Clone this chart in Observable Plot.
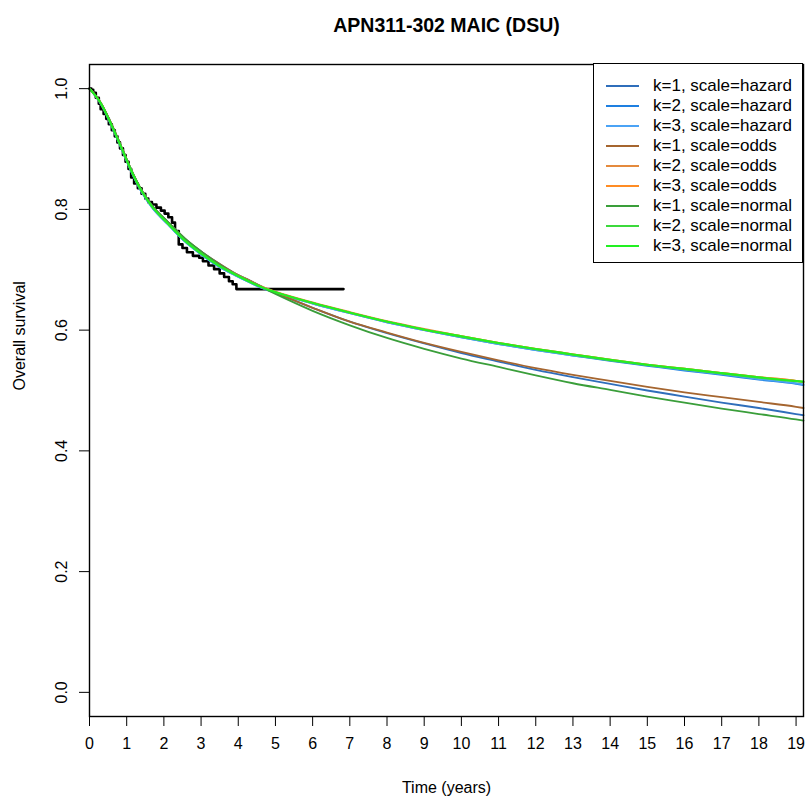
<!DOCTYPE html>
<html>
<head>
<meta charset="utf-8">
<script src="https://cdn.jsdelivr.net/npm/d3@7"></script>
<script src="https://cdn.jsdelivr.net/npm/@observablehq/plot@0.6"></script>
<style>
  body { margin: 0; background: #fff; font-family: "Liberation Sans", Arial, sans-serif; }
  #wrap { position: relative; width: 805px; height: 798px; }
  #legend { position: absolute; left: 593px; top: 63px; width: 208px; height: 198px;
            border: 1.5px solid #000; background: #fff; }
  .lrow { position: absolute; left: 0; height: 20px; width: 208px; }
  .lline { position: absolute; left: 12px; top: 9px; width: 33px; height: 2px; }
  .ltext { position: absolute; left: 59px; top: 0; line-height: 20px; font-size: 17px; color: #000; white-space: nowrap; }
</style>
</head>
<body>
<div id="wrap"></div>
<script>
// ---- text ----
const title = "APN311-302 MAIC (DSU)";
const xLabel = "Time (years)";
const yLabel = "Overall survival";
const xTicks = [0,1,2,3,4,5,6,7,8,9,10,11,12,13,14,15,16,17,18,19];
const yTicks = [0, 0.2, 0.4, 0.6, 0.8, 1.0];

// ---- Kaplan-Meier (observed) ----
const kmTime = [0,0.05,0.1,0.17,0.25,0.3,0.38,0.45,0.52,0.6,0.68,0.75,0.82,0.9,0.97,1.05,1.12,1.2,1.3,1.4,1.5,1.58,1.68,1.8,1.92,2.02,2.12,2.22,2.3,2.4,2.5,2.62,2.78,2.95,3.05,3.2,3.35,3.5,3.62,3.75,3.85,3.95,6.83];
const kmSurv = [1,0.998,0.993,0.985,0.975,0.966,0.958,0.95,0.941,0.931,0.921,0.911,0.901,0.89,0.879,0.867,0.853,0.843,0.835,0.826,0.818,0.812,0.808,0.803,0.798,0.793,0.787,0.778,0.764,0.742,0.736,0.729,0.723,0.72,0.714,0.707,0.701,0.694,0.688,0.681,0.676,0.668,0.668];

// ---- fitted models ----
const fitTime = [0,0.31,0.58,0.85,1.12,1.39,1.66,2.11,2.56,3.01,3.46,3.91,4.31,4.63,5,6,7,8,9,10,11,12,13,14,15,16,17,18,19,19.2];
const seriesNames = ["k=1, scale=hazard","k=2, scale=hazard","k=3, scale=hazard","k=1, scale=odds","k=2, scale=odds","k=3, scale=odds","k=1, scale=normal","k=2, scale=normal","k=3, scale=normal"];
const seriesColors = ["#2F6EBA","#1E7FE0","#4BA3F5","#A5652F","#E48A3D","#FF8C24","#3A9E3A","#3CD93C","#22F022"];

const hazardK1 = [1,0.975,0.942,0.904,0.866,0.833,0.808,0.779,0.752,0.730,0.711,0.694,0.682,0.672,0.662,0.637,0.614,0.595,0.578,0.562,0.548,0.534,0.522,0.511,0.500,0.490,0.480,0.471,0.461,0.459];
const hazardK2 = [1,0.974,0.940,0.902,0.863,0.830,0.805,0.775,0.747,0.725,0.706,0.691,0.679,0.670,0.662,0.644,0.628,0.613,0.600,0.588,0.577,0.567,0.558,0.549,0.541,0.533,0.526,0.518,0.511,0.509];
const hazardK3 = [1,0.974,0.940,0.902,0.863,0.830,0.805,0.775,0.747,0.725,0.706,0.691,0.679,0.670,0.662,0.644,0.628,0.613,0.600,0.588,0.577,0.567,0.558,0.550,0.542,0.534,0.527,0.519,0.512,0.510];
const oddsK1   = [1,0.976,0.943,0.905,0.866,0.833,0.808,0.779,0.752,0.730,0.711,0.694,0.682,0.672,0.662,0.637,0.614,0.596,0.579,0.564,0.550,0.537,0.526,0.516,0.506,0.497,0.489,0.481,0.473,0.471];
const oddsK2   = [1,0.976,0.942,0.904,0.865,0.832,0.807,0.777,0.749,0.727,0.708,0.693,0.681,0.672,0.664,0.646,0.630,0.615,0.602,0.590,0.579,0.569,0.560,0.551,0.543,0.536,0.529,0.522,0.516,0.514];
const oddsK3   = [1,0.975,0.942,0.904,0.865,0.832,0.807,0.777,0.749,0.727,0.708,0.693,0.681,0.671,0.663,0.645,0.629,0.614,0.601,0.590,0.579,0.569,0.560,0.551,0.543,0.536,0.529,0.522,0.516,0.514];
const normalK1 = [1,0.976,0.943,0.905,0.866,0.833,0.808,0.779,0.752,0.730,0.710,0.693,0.681,0.671,0.660,0.632,0.608,0.587,0.569,0.553,0.539,0.525,0.512,0.501,0.490,0.480,0.470,0.461,0.452,0.450];
const normalK2 = [1,0.975,0.941,0.903,0.865,0.832,0.807,0.777,0.749,0.727,0.708,0.693,0.680,0.671,0.663,0.645,0.629,0.614,0.601,0.589,0.578,0.568,0.559,0.550,0.542,0.535,0.528,0.521,0.515,0.514];
const normalK3 = [1,0.975,0.941,0.903,0.864,0.831,0.806,0.776,0.748,0.726,0.707,0.692,0.680,0.671,0.663,0.645,0.629,0.614,0.601,0.590,0.579,0.569,0.560,0.551,0.543,0.536,0.529,0.522,0.516,0.515];

const seriesValues = [hazardK1,hazardK2,hazardK3,oddsK1,oddsK2,oddsK3,normalK1,normalK2,normalK3];

// ---- tables built from arrays ----
const km = kmTime.map((t,i) => ({t, s: kmSurv[i]}));
const fits = [];
seriesNames.forEach((name, j) => {
  fitTime.forEach((t, i) => fits.push({series: name, t, s: seriesValues[j][i]}));
});

const font = "'Liberation Sans', Arial, sans-serif";

const chart = Plot.plot({
  width: 805,
  height: 798,
  marginTop: 64,
  marginBottom: 82,
  marginLeft: 89,
  marginRight: 2,
  style: { fontFamily: font, fontSize: "16px", background: "#fff", color: "#000" },
  x: { domain: [0, 19.2] },
  y: { domain: [-0.04, 1.04] },
  color: { domain: seriesNames, range: seriesColors },
  marks: [
    Plot.line(km, { x: "t", y: "s", curve: "step-after", stroke: "#000", strokeWidth: 2.6 }),
    Plot.line(fits, { x: "t", y: "s", z: "series", stroke: "series", strokeWidth: 1.8, curve: "monotone-x" }),
    Plot.frame({ stroke: "#000", strokeWidth: 1.4 }),
    Plot.axisX({ ticks: xTicks, tickSize: 10, tickPadding: 11, fontSize: 16, label: null, tickFormat: d3.format("d") }),
    Plot.axisY({ ticks: yTicks, tickSize: 10, tickPadding: 13, tickRotate: -90, fontSize: 16, label: null, tickFormat: d3.format(".1f") }),
    Plot.text([xLabel], { frameAnchor: "bottom", dy: 76, fontSize: 16, text: d => d }),
    Plot.text([yLabel], { frameAnchor: "left", dx: -70, rotate: -90, fontSize: 16, text: d => d }),
    Plot.text([title], { frameAnchor: "top", dy: -46, fontSize: 19.5, fontWeight: "bold", text: d => d })
  ]
});

const wrap = document.getElementById("wrap");
wrap.appendChild(chart);

// ---- legend (built from the series arrays) ----
const legend = document.createElement("div");
legend.id = "legend";
seriesNames.forEach((name, i) => {
  const row = document.createElement("div");
  row.className = "lrow";
  row.style.top = (12 + 20 * i) + "px";
  const ln = document.createElement("div");
  ln.className = "lline";
  ln.style.background = seriesColors[i];
  const tx = document.createElement("div");
  tx.className = "ltext";
  tx.textContent = name;
  row.appendChild(ln);
  row.appendChild(tx);
  legend.appendChild(row);
});
wrap.appendChild(legend);
</script>
</body>
</html>
